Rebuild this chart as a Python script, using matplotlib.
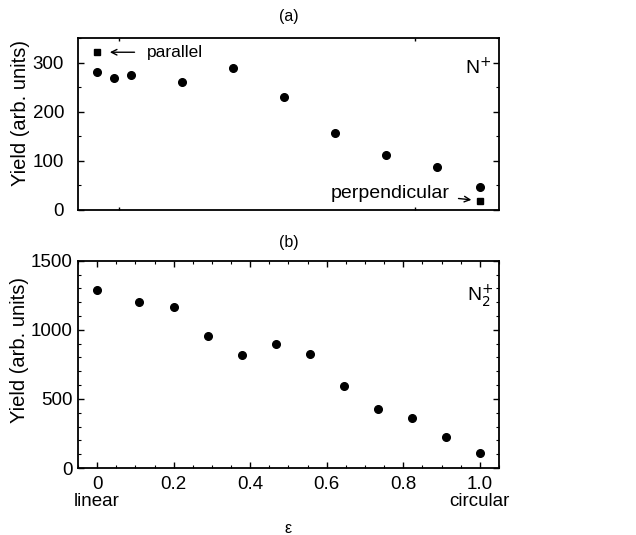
import matplotlib
matplotlib.use("Agg")
import matplotlib.pyplot as plt
from matplotlib.ticker import MultipleLocator, FixedLocator

plt.rcParams['font.family'] = ['Liberation Sans', 'DejaVu Sans']

# Panel (a): N+
eps_a = [0.0, 0.044, 0.088, 0.222, 0.355, 0.488, 0.622, 0.755, 0.888, 1.0]
yield_a = [280, 269, 274, 261, 289, 230, 157, 112, 87, 47]
eps_sq = [0.0, 1.0]
yield_sq = [321, 19]

# Panel (b): N2+
eps_b = [0.0, 0.11, 0.2, 0.289, 0.378, 0.467, 0.556, 0.644, 0.733, 0.822, 0.911, 1.0]
yield_b = [1285, 1200, 1164, 958, 815, 900, 823, 595, 426, 363, 225, 109]

xticks = [0, 0.2, 0.4, 0.6, 0.8, 1.0]
xticklabels = ['0\nlinear', '0.2', '0.4', '0.6', '0.8', '1.0\ncircular']

fig = plt.figure(figsize=(6.36, 5.35), dpi=100)
ax1 = fig.add_axes([0.1226, 0.6075, 0.662, 0.3215])
ax2 = fig.add_axes([0.1226, 0.1252, 0.662, 0.3875])

fs = 13.5
for ax in (ax1, ax2):
    for s in ax.spines.values():
        s.set_linewidth(1.3)
    ax.tick_params(direction='in', top=True, right=True, which='both', labelsize=fs)
    ax.tick_params(which='major', length=4, width=1)
    ax.tick_params(which='minor', length=2, width=0.8)
    ax.set_xlim(-0.05, 1.05)
    ax.set_ylabel('Yield (arb. units)', fontsize=14.5)

# top panel
ax1.plot(eps_a, yield_a, 'o', color='black', markersize=5.5)
ax1.plot(eps_sq, yield_sq, 's', color='black', markersize=4.5)
ax1.set_ylim(0, 350)
ax1.set_yticks([0, 100, 200, 300])
ax1.yaxis.set_minor_locator(MultipleLocator(50))
ax1.tick_params(axis='y', which='major', pad=10)
ax1.xaxis.set_major_locator(FixedLocator([0.057, 0.83]))
ax1.set_xticklabels([])
ax1.tick_params(axis='x', which='major', length=2)
ax1.set_title('(a)', fontsize=11.5, pad=12)
ax1.yaxis.set_label_coords(-0.113, 0.564)
ax1.annotate('', xy=(0.026, 321), xytext=(0.105, 321),
             arrowprops=dict(arrowstyle='->', lw=1, color='black'))
ax1.text(0.13, 321, 'parallel', fontsize=12.5, va='center', ha='left')
ax1.text(0.61, 34, 'perpendicular', fontsize=14, va='center', ha='left')
ax1.annotate('', xy=(0.985, 20), xytext=(0.937, 24),
             arrowprops=dict(arrowstyle='->', lw=1, color='black'))
ax1.text(1.03, 290, r'N$^{+}$', fontsize=14, ha='right', va='center')

# bottom panel
ax2.plot(eps_b, yield_b, 'o', color='black', markersize=5.5)
ax2.set_ylim(0, 1500)
ax2.set_yticks([0, 500, 1000, 1500])
ax2.yaxis.set_minor_locator(MultipleLocator(100))
ax2.tick_params(axis='y', which='major', pad=4)
ax2.set_xticks(xticks)
ax2.set_xticklabels(xticklabels, linespacing=1.0)
ax2.tick_params(axis='x', which='major', pad=6)
ax2.xaxis.set_minor_locator(MultipleLocator(0.05))
ax2.set_title('(b)', fontsize=11.5, pad=10)
ax2.yaxis.set_label_coords(-0.117, 0.568)
ax2.set_xlabel('ε', fontsize=11.5)
ax2.xaxis.label.set_va('center')
ax2.xaxis.set_label_coords(0.5, -0.29)
ax2.text(1.035, 1250, r'N$_2^{+}$', fontsize=14, ha='right', va='center')

fig.savefig('out.png', dpi=100)
